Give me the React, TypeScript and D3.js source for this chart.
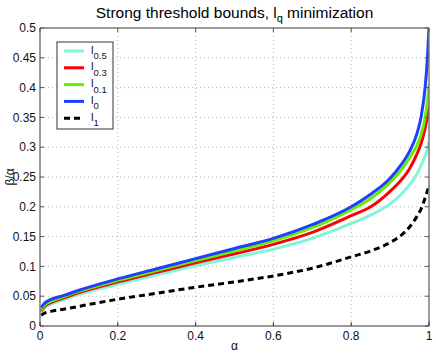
import React from 'react';
import * as d3 from 'd3';

const W = 436;
const H = 354;
const PL = 40, PR = 429, PT = 28, PB = 326;

const xTicks = [0, 0.2, 0.4, 0.6, 0.8, 1];
const xTickLabels = ['0', '0.2', '0.4', '0.6', '0.8', '1'];
const yTicks = [0, 0.05, 0.1, 0.15, 0.2, 0.25, 0.3, 0.35, 0.4, 0.45, 0.5];
const yTickLabels = ['0', '0.05', '0.1', '0.15', '0.2', '0.25', '0.3', '0.35', '0.4', '0.45', '0.5'];

const alphaPts = [0.003, 0.01, 0.03, 0.06, 0.1, 0.2, 0.3, 0.4, 0.5, 0.6, 0.7, 0.8, 0.85, 0.9, 0.93, 0.95, 0.97, 0.98, 0.99, 0.995, 0.998, 1];

const l05 = [0.022, 0.029, 0.037, 0.044, 0.053, 0.070, 0.086, 0.101, 0.115, 0.129, 0.147, 0.172, 0.186, 0.205, 0.222, 0.237, 0.256, 0.27, 0.285, 0.295, 0.303, 0.31];
const l03 = [0.025, 0.032, 0.040, 0.047, 0.056, 0.074, 0.090, 0.106, 0.121, 0.137, 0.157, 0.185, 0.200, 0.226, 0.246, 0.264, 0.290, 0.307, 0.332, 0.35, 0.36, 0.37];
const l01 = [0.027, 0.034, 0.042, 0.049, 0.058, 0.0765, 0.093, 0.110, 0.126, 0.143, 0.165, 0.195, 0.214, 0.241, 0.263, 0.282, 0.305, 0.322, 0.35, 0.372, 0.39, 0.405];
const l0 = [0.031, 0.037, 0.045, 0.051, 0.060, 0.079, 0.096, 0.113, 0.130, 0.147, 0.170, 0.200, 0.221, 0.248, 0.272, 0.293, 0.325, 0.352, 0.40, 0.44, 0.475, 0.5];
const l1 = [0.018, 0.021, 0.025, 0.028, 0.033, 0.045, 0.055, 0.065, 0.074, 0.084, 0.097, 0.116, 0.126, 0.140, 0.153, 0.166, 0.185, 0.197, 0.215, 0.225, 0.231, 0.235];

const seriesNames = ['0.5', '0.3', '0.1', '0', '1'];
const seriesValues = [l05, l03, l01, l0, l1];
const seriesColors = ['#7ff5da', '#ff0000', '#66ee00', '#1f3fff', '#000000'];
const seriesDash = ['', '', '', '', '6,4'];

const FONT = '"Liberation Sans", Arial, Helvetica, sans-serif';

export default function App() {
  const x = d3.scaleLinear().domain([0, 1]).range([PL, PR]);
  const y = d3.scaleLinear().domain([0, 0.5]).range([PB, PT]);
  const line = d3
    .line<number>()
    .x((_, i) => x(alphaPts[i]))
    .y((d) => y(d))
    .curve(d3.curveMonotoneX);

  const legendX = 57, legendY = 42, legendW = 56, legendH = 87;
  const legendRowY = (i: number) => 51 + i * 16.8;

  return (
    <svg width={W} height={H} style={{ position: 'absolute', left: 0, top: 0, background: '#fff' }} fontFamily={FONT}>
      <rect x={0} y={0} width={W} height={H} fill="#fff" />
      <defs>
        <clipPath id="plotclip">
          <rect x={PL} y={PT} width={PR - PL} height={PB - PT} />
        </clipPath>
      </defs>
      {xTicks.slice(1, -1).map((t, i) => (
        <line key={'gx' + i} x1={x(t)} x2={x(t)} y1={PT} y2={PB} stroke="#b4b4b4" strokeWidth={1} strokeDasharray="1,3" />
      ))}
      {yTicks.slice(1, -1).map((t, i) => (
        <line key={'gy' + i} x1={PL} x2={PR} y1={y(t)} y2={y(t)} stroke="#b4b4b4" strokeWidth={1} strokeDasharray="1,3" />
      ))}
      <g clipPath="url(#plotclip)">
        {seriesValues.map((vals, i) => (
          <path
            key={'s' + i}
            d={line(vals) || ''}
            fill="none"
            stroke={seriesColors[i]}
            strokeWidth={3}
            strokeDasharray={seriesDash[i] || undefined}
          />
        ))}
      </g>
      <line x1={PL} x2={PR} y1={PT} y2={PT} stroke="#7a7a7a" strokeWidth={1.5} />
      <line x1={PR} x2={PR} y1={PT} y2={PB} stroke="#7a7a7a" strokeWidth={1.5} />
      <line x1={PL} x2={PL} y1={PT} y2={PB} stroke="#7a7a7a" strokeWidth={1.5} />
      <line x1={PL} x2={PR} y1={PB} y2={PB} stroke="#333" strokeWidth={1} />
      {xTicks.map((t, i) => (
        <g key={'tx' + i}>
          <line x1={x(t)} x2={x(t)} y1={PB} y2={PB - 4} stroke="#333" />
          <line x1={x(t)} x2={x(t)} y1={PT} y2={PT + 4} stroke="#555" />
          <text x={x(t)} y={339.5} textAnchor="middle" fontSize={12} fill="#111">
            {xTickLabels[i]}
          </text>
        </g>
      ))}
      {yTicks.map((t, i) => (
        <g key={'ty' + i}>
          <line x1={PL} x2={PL + 4} y1={y(t)} y2={y(t)} stroke="#555" />
          <line x1={PR} x2={PR - 4} y1={y(t)} y2={y(t)} stroke="#555" />
          <text x={36} y={y(t) + 4.2} textAnchor="end" fontSize={12} fill="#111">
            {yTickLabels[i]}
          </text>
        </g>
      ))}
      <text x={(PL + PR) / 2} y={17.5} textAnchor="middle" fontSize={15.5} fill="#000">
        Strong threshold bounds, l
        <tspan dy={4} fontSize={11}>q</tspan>
        <tspan dy={-4}> minimization</tspan>
      </text>
      <text x={(PL + PR) / 2} y={350} textAnchor="middle" fontSize={12} fill="#111">α</text>
      <text transform={`translate(14,${(PT + PB) / 2}) rotate(-90)`} textAnchor="middle" fontSize={12} fill="#111">β/α</text>
      <rect x={legendX} y={legendY} width={legendW} height={legendH} fill="#fff" stroke="#333" strokeWidth={1} />
      {seriesNames.map((n, i) => (
        <g key={'lg' + i}>
          <line
            x1={64}
            x2={84}
            y1={legendRowY(i)}
            y2={legendRowY(i)}
            stroke={seriesColors[i]}
            strokeWidth={3}
            strokeDasharray={seriesDash[i] || undefined}
          />
          <text x={91} y={legendRowY(i) + 2.5} fontSize={11.5} fill="#111">
            l
            <tspan dy={5.5} fontSize={9.5}>{n}</tspan>
          </text>
        </g>
      ))}
    </svg>
  );
}
